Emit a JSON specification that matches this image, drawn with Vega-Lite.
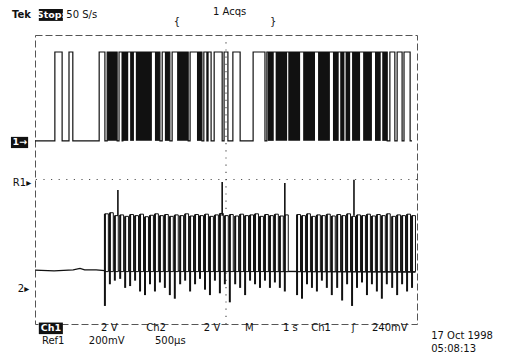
{
  "$schema": "https://vega.github.io/schema/vega-lite/v6.json",
  "width": 382,
  "height": 289,
  "autosize": {"type": "none"},
  "padding": {"left": 35, "top": 35, "right": 91, "bottom": 33},
  "background": "white",
  "config": {
    "view": {"stroke": "#555", "strokeDash": [7, 3], "strokeWidth": 1},
    "text": {"font": "DejaVu Sans", "fontSize": 10, "color": "#111"}
  },
  "datasets": {
    "grid_x": [{"t": 5}],
    "grid_y": [{"v": 0}],
    "ch1": [
      {"t": 0, "v": 1.07}, {"t": 0.52, "v": 3.53}, {"t": 0.71, "v": 1.07}, {"t": 0.89, "v": 3.53},
      {"t": 0.99, "v": 1.07}, {"t": 1.68, "v": 3.53}, {"t": 1.83, "v": 1.07}, {"t": 1.89, "v": 3.53},
      {"t": 2.15, "v": 1.07}, {"t": 2.2, "v": 3.53}, {"t": 2.28, "v": 1.07}, {"t": 2.3, "v": 3.53},
      {"t": 3.27, "v": 1.07}, {"t": 3.33, "v": 3.53}, {"t": 3.53, "v": 1.07}, {"t": 3.59, "v": 3.53},
      {"t": 4.01, "v": 1.07}, {"t": 4.06, "v": 3.53}, {"t": 4.37, "v": 1.07}, {"t": 4.42, "v": 3.53},
      {"t": 4.5, "v": 1.07}, {"t": 4.53, "v": 3.53}, {"t": 4.61, "v": 1.07}, {"t": 4.69, "v": 3.53},
      {"t": 4.9, "v": 1.07}, {"t": 4.95, "v": 3.53}, {"t": 5.05, "v": 1.07}, {"t": 5.18, "v": 3.53},
      {"t": 5.37, "v": 1.07}, {"t": 5.71, "v": 3.53}, {"t": 6.02, "v": 1.07}, {"t": 6.07, "v": 3.53},
      {"t": 9.22, "v": 1.07}, {"t": 9.29, "v": 3.53}, {"t": 9.42, "v": 1.07}, {"t": 9.48, "v": 3.53},
      {"t": 9.61, "v": 1.07}, {"t": 9.66, "v": 3.53}, {"t": 9.82, "v": 1.07}, {"t": 9.87, "v": 1.07}
    ],
    "ch1_dense": [
      {"t": 1.89, "t2": 2.15, "lo": 1.07, "hi": 3.53}, {"t": 2.3, "t2": 2.44, "lo": 1.07, "hi": 3.53},
      {"t": 2.49, "t2": 2.59, "lo": 1.07, "hi": 3.53}, {"t": 2.64, "t2": 3.06, "lo": 1.07, "hi": 3.53},
      {"t": 3.14, "t2": 3.27, "lo": 1.07, "hi": 3.53}, {"t": 3.4, "t2": 3.53, "lo": 1.07, "hi": 3.53},
      {"t": 3.72, "t2": 4.01, "lo": 1.07, "hi": 3.53}, {"t": 4.24, "t2": 4.37, "lo": 1.07, "hi": 3.53},
      {"t": 6.09, "t2": 6.25, "lo": 1.07, "hi": 3.53}, {"t": 6.3, "t2": 6.6, "lo": 1.07, "hi": 3.53},
      {"t": 6.63, "t2": 6.94, "lo": 1.07, "hi": 3.53}, {"t": 7.02, "t2": 7.33, "lo": 1.07, "hi": 3.53},
      {"t": 7.41, "t2": 7.72, "lo": 1.07, "hi": 3.53}, {"t": 7.8, "t2": 7.95, "lo": 1.07, "hi": 3.53},
      {"t": 7.99, "t2": 8.1, "lo": 1.07, "hi": 3.53}, {"t": 8.13, "t2": 8.25, "lo": 1.07, "hi": 3.53},
      {"t": 8.3, "t2": 8.51, "lo": 1.07, "hi": 3.53}, {"t": 8.59, "t2": 8.82, "lo": 1.07, "hi": 3.53},
      {"t": 8.9, "t2": 9.05, "lo": 1.07, "hi": 3.53}, {"t": 9.09, "t2": 9.22, "lo": 1.07, "hi": 3.53}
    ],
    "ch2_base": [
      {"t": 0, "v": -2.51}, {"t": 0.5, "v": -2.53}, {"t": 1.0, "v": -2.5}, {"t": 1.18, "v": -2.46},
      {"t": 1.3, "v": -2.5}, {"t": 1.6, "v": -2.5}, {"t": 1.83, "v": -2.52}, {"t": 9.96, "v": -2.56}
    ],
    "ch2_pulses": [
      {"t": 1.83, "e": 1.92, "base": -2.55, "top": -0.95, "dip": -3.5}, {"t": 1.96, "e": 2.05, "base": -2.55, "top": -0.92, "dip": -2.9},
      {"t": 2.09, "e": 2.18, "base": -2.55, "top": -1.0, "dip": -2.8}, {"t": 2.23, "e": 2.32, "base": -2.55, "top": -0.98, "dip": -2.75},
      {"t": 2.36, "e": 2.45, "base": -2.55, "top": -1.02, "dip": -3.0}, {"t": 2.49, "e": 2.58, "base": -2.55, "top": -0.97, "dip": -2.95},
      {"t": 2.62, "e": 2.71, "base": -2.55, "top": -1.0, "dip": -2.8}, {"t": 2.75, "e": 2.84, "base": -2.55, "top": -0.96, "dip": -3.1},
      {"t": 2.88, "e": 2.97, "base": -2.55, "top": -1.03, "dip": -3.2}, {"t": 3.01, "e": 3.1, "base": -2.55, "top": -0.99, "dip": -2.9},
      {"t": 3.14, "e": 3.23, "base": -2.55, "top": -0.95, "dip": -3.1}, {"t": 3.27, "e": 3.36, "base": -2.55, "top": -1.0, "dip": -2.85},
      {"t": 3.4, "e": 3.49, "base": -2.55, "top": -0.97, "dip": -3.0}, {"t": 3.53, "e": 3.62, "base": -2.55, "top": -1.02, "dip": -3.2},
      {"t": 3.66, "e": 3.75, "base": -2.55, "top": -0.98, "dip": -3.3}, {"t": 3.8, "e": 3.89, "base": -2.55, "top": -1.0, "dip": -2.9},
      {"t": 3.93, "e": 4.02, "base": -2.55, "top": -0.95, "dip": -2.8}, {"t": 4.06, "e": 4.15, "base": -2.55, "top": -1.01, "dip": -3.1},
      {"t": 4.19, "e": 4.28, "base": -2.55, "top": -0.97, "dip": -2.9}, {"t": 4.32, "e": 4.41, "base": -2.55, "top": -1.0, "dip": -2.75},
      {"t": 4.45, "e": 4.54, "base": -2.55, "top": -0.96, "dip": -3.05}, {"t": 4.58, "e": 4.67, "base": -2.55, "top": -1.02, "dip": -3.2},
      {"t": 4.71, "e": 4.8, "base": -2.55, "top": -0.98, "dip": -2.8}, {"t": 4.84, "e": 4.93, "base": -2.55, "top": -0.94, "dip": -3.15},
      {"t": 4.97, "e": 5.06, "base": -2.55, "top": -1.0, "dip": -2.9}, {"t": 5.1, "e": 5.19, "base": -2.55, "top": -0.97, "dip": -3.4},
      {"t": 5.24, "e": 5.33, "base": -2.55, "top": -1.01, "dip": -2.9}, {"t": 5.37, "e": 5.46, "base": -2.55, "top": -0.96, "dip": -3.0},
      {"t": 5.5, "e": 5.59, "base": -2.55, "top": -1.0, "dip": -3.2}, {"t": 5.63, "e": 5.72, "base": -2.55, "top": -0.98, "dip": -2.8},
      {"t": 5.76, "e": 5.85, "base": -2.55, "top": -0.95, "dip": -2.9}, {"t": 5.89, "e": 5.98, "base": -2.55, "top": -1.02, "dip": -3.0},
      {"t": 6.02, "e": 6.11, "base": -2.55, "top": -0.97, "dip": -2.8}, {"t": 6.15, "e": 6.24, "base": -2.55, "top": -1.0, "dip": -3.0},
      {"t": 6.28, "e": 6.37, "base": -2.55, "top": -0.96, "dip": -2.85}, {"t": 6.41, "e": 6.5, "base": -2.55, "top": -1.01, "dip": -3.0},
      {"t": 6.54, "e": 6.63, "base": -2.55, "top": -0.98, "dip": -3.1}, {"t": 6.86, "e": 6.95, "base": -2.55, "top": -0.97, "dip": -3.2},
      {"t": 6.99, "e": 7.08, "base": -2.55, "top": -1.0, "dip": -3.3}, {"t": 7.12, "e": 7.21, "base": -2.55, "top": -0.95, "dip": -2.9},
      {"t": 7.25, "e": 7.34, "base": -2.55, "top": -1.02, "dip": -3.0}, {"t": 7.38, "e": 7.47, "base": -2.55, "top": -0.98, "dip": -3.1},
      {"t": 7.51, "e": 7.6, "base": -2.55, "top": -1.0, "dip": -2.8}, {"t": 7.64, "e": 7.73, "base": -2.55, "top": -0.96, "dip": -3.0},
      {"t": 7.77, "e": 7.86, "base": -2.55, "top": -1.01, "dip": -3.2}, {"t": 7.91, "e": 8.0, "base": -2.55, "top": -0.97, "dip": -3.0},
      {"t": 8.04, "e": 8.13, "base": -2.55, "top": -1.0, "dip": -3.35}, {"t": 8.17, "e": 8.26, "base": -2.55, "top": -0.95, "dip": -2.9},
      {"t": 8.3, "e": 8.39, "base": -2.55, "top": -1.02, "dip": -3.5}, {"t": 8.43, "e": 8.52, "base": -2.55, "top": -0.98, "dip": -3.0},
      {"t": 8.56, "e": 8.65, "base": -2.55, "top": -1.0, "dip": -2.85}, {"t": 8.69, "e": 8.78, "base": -2.55, "top": -0.96, "dip": -3.2},
      {"t": 8.82, "e": 8.91, "base": -2.55, "top": -1.01, "dip": -2.9}, {"t": 8.95, "e": 9.04, "base": -2.55, "top": -0.97, "dip": -3.1},
      {"t": 9.08, "e": 9.17, "base": -2.55, "top": -1.0, "dip": -3.3}, {"t": 9.21, "e": 9.3, "base": -2.55, "top": -0.95, "dip": -2.9},
      {"t": 9.35, "e": 9.44, "base": -2.55, "top": -1.02, "dip": -3.0}, {"t": 9.48, "e": 9.57, "base": -2.55, "top": -0.98, "dip": -3.2},
      {"t": 9.61, "e": 9.7, "base": -2.55, "top": -1.0, "dip": -2.9}, {"t": 9.74, "e": 9.83, "base": -2.55, "top": -0.96, "dip": -3.1},
      {"t": 9.87, "e": 9.96, "base": -2.55, "top": -1.0, "dip": -3.0}
    ],
    "ch2_spikes": [
      {"t": 2.17, "from": -1.0, "peak": -0.29}, {"t": 4.9, "from": -1.0, "peak": -0.07},
      {"t": 6.54, "from": -1.0, "peak": -0.1}, {"t": 8.35, "from": -1.0, "peak": -0.01}
    ],
    "labels": [
      {"t": 0.82, "v": 4.55, "label": "50 S/s"},
      {"t": 4.66, "v": 4.64, "label": "1 Acqs"},
      {"t": 3.63, "v": 4.36, "label": "{"},
      {"t": 6.15, "v": 4.36, "label": "}"},
      {"t": 1.73, "v": -4.12, "label": "2 V"},
      {"t": 2.91, "v": -4.12, "label": "Ch2"},
      {"t": 4.42, "v": -4.12, "label": "2 V"},
      {"t": 5.5, "v": -4.12, "label": "M"},
      {"t": 6.49, "v": -4.12, "label": "1 s"},
      {"t": 7.23, "v": -4.12, "label": "Ch1"},
      {"t": 8.29, "v": -4.12, "label": "ʃ"},
      {"t": 8.82, "v": -4.12, "label": "240mV"},
      {"t": 0.18, "v": -4.46, "label": "Ref1"},
      {"t": 1.41, "v": -4.46, "label": "200mV"},
      {"t": 3.14, "v": -4.46, "label": "500µs"},
      {"t": 10.37, "v": -4.34, "label": "17 Oct 1998"},
      {"t": 10.37, "v": -4.68, "label": "05:08:13"},
      {"t": -0.58, "v": -0.1, "label": "R1▸"},
      {"t": -0.45, "v": -3.03, "label": "2▸"}
    ],
    "bold_labels": [
      {"t": -0.6, "v": 4.55, "label": "Tek"}
    ],
    "boxes": [
      {"t": 0.1, "t2": 0.73, "v": 4.39, "v2": 4.72},
      {"t": 0.1, "t2": 0.73, "v": -3.96, "v2": -4.28},
      {"t": -0.63, "t2": -0.18, "v": 0.87, "v2": 1.18}
    ],
    "box_labels": [
      {"t": 0.42, "v": 4.55, "label": "Stop:"},
      {"t": 0.42, "v": -4.12, "label": "Ch1"},
      {"t": -0.4, "v": 1.03, "label": "1→"}
    ]
  },
  "layer": [
    {
      "data": {"name": "grid_x"},
      "mark": {"type": "rule", "color": "#555", "strokeDash": [1.2, 6], "strokeWidth": 1.2},
      "encoding": {
        "x": {"field": "t", "type": "quantitative", "scale": {"domain": [0, 10], "nice": false, "zero": false}, "axis": null}
      }
    },
    {
      "data": {"name": "grid_y"},
      "mark": {"type": "rule", "color": "#555", "strokeDash": [1.2, 6.4], "strokeWidth": 1.2},
      "encoding": {
        "y": {"field": "v", "type": "quantitative", "scale": {"domain": [-4, 4], "nice": false, "zero": false}, "axis": null}
      }
    },
    {
      "data": {"name": "ch1_dense"},
      "mark": {"type": "rect", "color": "#111"},
      "encoding": {
        "x": {"field": "t", "type": "quantitative", "scale": {"domain": [0, 10], "nice": false, "zero": false}, "axis": null},
        "x2": {"field": "t2"},
        "y": {"field": "lo", "type": "quantitative", "scale": {"domain": [-4, 4], "nice": false, "zero": false}, "axis": null},
        "y2": {"field": "hi"}
      }
    },
    {
      "data": {"name": "ch1"},
      "mark": {"type": "line", "interpolate": "step-after", "color": "#111", "strokeWidth": 1.2},
      "encoding": {
        "x": {"field": "t", "type": "quantitative", "scale": {"domain": [0, 10], "nice": false, "zero": false}, "axis": null},
        "y": {"field": "v", "type": "quantitative", "scale": {"domain": [-4, 4], "nice": false, "zero": false}, "axis": null}
      }
    },
    {
      "data": {"name": "ch2_base"},
      "mark": {"type": "line", "color": "#111", "strokeWidth": 1.3},
      "encoding": {
        "x": {"field": "t", "type": "quantitative", "scale": {"domain": [0, 10], "nice": false, "zero": false}, "axis": null},
        "y": {"field": "v", "type": "quantitative", "scale": {"domain": [-4, 4], "nice": false, "zero": false}, "axis": null}
      }
    },
    {
      "data": {"name": "ch2_pulses"},
      "mark": {"type": "rect", "fill": "white", "stroke": "#111", "strokeWidth": 1},
      "encoding": {
        "x": {"field": "t", "type": "quantitative", "scale": {"domain": [0, 10], "nice": false, "zero": false}, "axis": null},
        "x2": {"field": "e"},
        "y": {"field": "base", "type": "quantitative", "scale": {"domain": [-4, 4], "nice": false, "zero": false}, "axis": null},
        "y2": {"field": "top"}
      }
    },
    {
      "data": {"name": "ch2_pulses"},
      "mark": {"type": "rule", "color": "#111", "strokeWidth": 2},
      "encoding": {
        "x": {"field": "t", "type": "quantitative", "scale": {"domain": [0, 10], "nice": false, "zero": false}, "axis": null},
        "y": {"field": "dip", "type": "quantitative", "scale": {"domain": [-4, 4], "nice": false, "zero": false}, "axis": null},
        "y2": {"field": "top"}
      }
    },
    {
      "data": {"name": "ch2_spikes"},
      "mark": {"type": "rule", "color": "#111", "strokeWidth": 1.6},
      "encoding": {
        "x": {"field": "t", "type": "quantitative", "scale": {"domain": [0, 10], "nice": false, "zero": false}, "axis": null},
        "y": {"field": "from", "type": "quantitative", "scale": {"domain": [-4, 4], "nice": false, "zero": false}, "axis": null},
        "y2": {"field": "peak"}
      }
    },
    {
      "data": {"name": "boxes"},
      "mark": {"type": "rect", "color": "#111"},
      "encoding": {
        "x": {"field": "t", "type": "quantitative", "scale": {"domain": [0, 10], "nice": false, "zero": false}, "axis": null},
        "x2": {"field": "t2"},
        "y": {"field": "v", "type": "quantitative", "scale": {"domain": [-4, 4], "nice": false, "zero": false}, "axis": null},
        "y2": {"field": "v2"}
      }
    },
    {
      "data": {"name": "box_labels"},
      "mark": {"type": "text", "color": "white", "fontWeight": "bold", "fontSize": 9.5, "align": "center", "baseline": "middle"},
      "encoding": {
        "x": {"field": "t", "type": "quantitative", "scale": {"domain": [0, 10], "nice": false, "zero": false}, "axis": null},
        "y": {"field": "v", "type": "quantitative", "scale": {"domain": [-4, 4], "nice": false, "zero": false}, "axis": null},
        "text": {"field": "label"}
      }
    },
    {
      "data": {"name": "labels"},
      "mark": {"type": "text", "align": "left", "baseline": "middle"},
      "encoding": {
        "x": {"field": "t", "type": "quantitative", "scale": {"domain": [0, 10], "nice": false, "zero": false}, "axis": null},
        "y": {"field": "v", "type": "quantitative", "scale": {"domain": [-4, 4], "nice": false, "zero": false}, "axis": null},
        "text": {"field": "label"}
      }
    },
    {
      "data": {"name": "bold_labels"},
      "mark": {"type": "text", "align": "left", "baseline": "middle", "fontWeight": "bold"},
      "encoding": {
        "x": {"field": "t", "type": "quantitative", "scale": {"domain": [0, 10], "nice": false, "zero": false}, "axis": null},
        "y": {"field": "v", "type": "quantitative", "scale": {"domain": [-4, 4], "nice": false, "zero": false}, "axis": null},
        "text": {"field": "label"}
      }
    }
  ]
}
